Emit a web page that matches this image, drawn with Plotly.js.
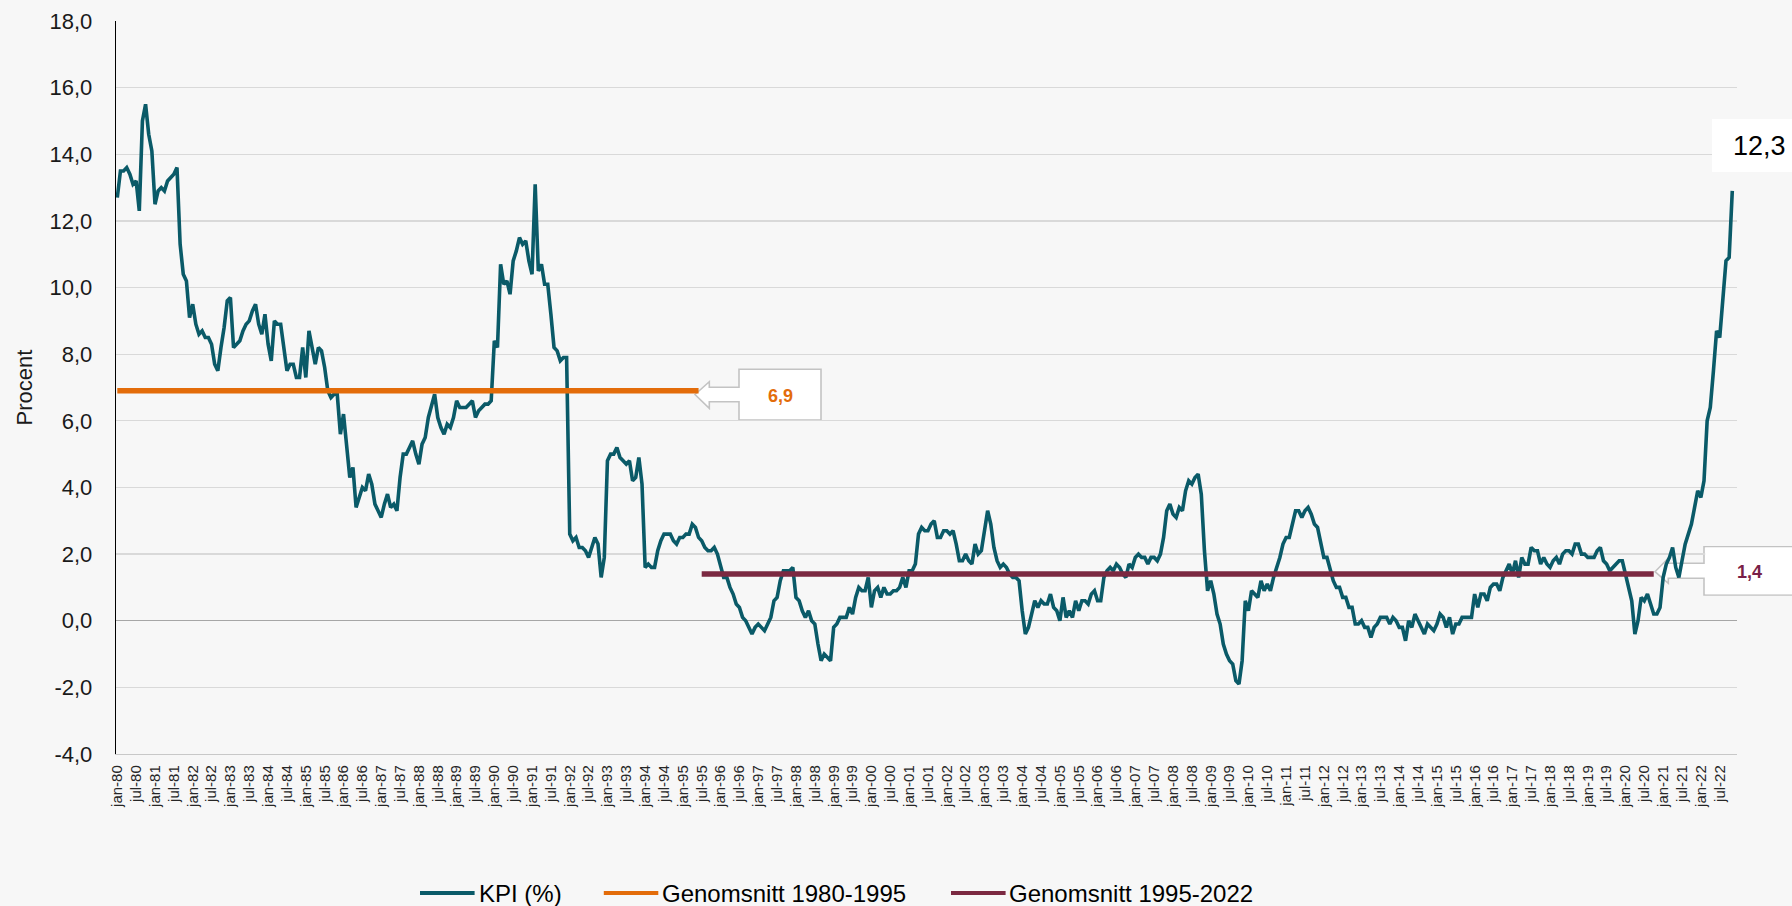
<!DOCTYPE html>
<html>
<head>
<meta charset="utf-8">
<script src="https://cdn.plot.ly/plotly-3.0.1.min.js"></script>
<style>
  html, body { margin: 0; padding: 0; background: #f7f7f7; }
  #chart { width: 1792px; height: 906px; }
</style>
</head>
<body>
<div id="chart"></div>
<script>
// ---------------- DATA ----------------
const monthNames = ['jan','feb','mar','apr','maj','jun','jul','aug','sep','okt','nov','dec'];
const firstYear = 1980;
const monthCount = 515;               // jan-80 .. nov-22
const categories = [];
for (let k = 0; k < monthCount; k++) {
  const yr = firstYear + Math.floor(k / 12);
  categories.push(monthNames[k % 12] + '-' + String(yr % 100).padStart(2, '0'));
}

// KPI, 12-month change (%)
const kpi = [
  12.7, 13.5, 13.5, 13.6, 13.4, 13.1, 13.2, 12.3, 15.0, 15.5, 14.6, 14.1, // 1980
  12.5, 12.9, 13.0, 12.9, 13.2, 13.3, 13.4, 13.6, 11.3, 10.4, 10.2, 9.1,  // 1981
  9.5, 8.9, 8.6, 8.7, 8.5, 8.5, 8.3, 7.7, 7.5, 8.2, 8.8, 9.6,             // 1982
  9.7, 8.2, 8.3, 8.4, 8.7, 8.9, 9.0, 9.3, 9.5, 8.9, 8.6, 9.2,             // 1983
  8.3, 7.8, 9.0, 8.9, 8.9, 8.2, 7.5, 7.7, 7.7, 7.3, 7.3, 8.2,             // 1984
  7.3, 8.7, 8.2, 7.7, 8.2, 8.1, 7.6, 6.9, 6.7, 6.8, 6.8, 5.6,             // 1985
  6.2, 5.3, 4.3, 4.6, 3.4, 3.7, 4.0, 3.9, 4.4, 4.1, 3.5, 3.3,             // 1986
  3.1, 3.5, 3.8, 3.4, 3.5, 3.3, 4.3, 5.0, 5.0, 5.2, 5.4, 5.0,             // 1987
  4.7, 5.3, 5.5, 6.1, 6.5, 6.8, 6.1, 5.8, 5.6, 5.9, 5.8, 6.1,             // 1988
  6.6, 6.4, 6.4, 6.4, 6.5, 6.6, 6.1, 6.3, 6.4, 6.5, 6.5, 6.6,             // 1989
  8.4, 8.2, 10.7, 10.1, 10.2, 9.8, 10.8, 11.1, 11.5, 11.3, 11.4, 10.8,    // 1990
  10.4, 13.1, 10.5, 10.7, 10.1, 10.1, 9.2, 8.2, 8.1, 7.8, 7.9, 7.9,       // 1991
  2.6, 2.4, 2.5, 2.2, 2.2, 2.1, 1.9, 2.2, 2.5, 2.3, 1.3, 1.9,             // 1992
  4.8, 5.0, 5.0, 5.2, 4.9, 4.8, 4.7, 4.8, 4.2, 4.3, 4.9, 4.1,             // 1993
  1.6, 1.7, 1.6, 1.6, 2.1, 2.4, 2.6, 2.6, 2.6, 2.4, 2.3, 2.5,             // 1994
  2.5, 2.6, 2.6, 2.9, 2.8, 2.5, 2.4, 2.2, 2.1, 2.1, 2.2, 2.0,             // 1995
  1.6, 1.3, 1.3, 1.0, 0.8, 0.5, 0.4, 0.1, 0.0, -0.2, -0.4, -0.2,          // 1996
  -0.1, -0.2, -0.3, -0.1, 0.1, 0.6, 0.7, 1.2, 1.5, 1.5, 1.5, 1.6,         // 1997
  0.7, 0.6, 0.3, 0.1, 0.3, 0.0, -0.1, -0.7, -1.2, -1.0, -1.1, -1.2,       // 1998
  -0.2, -0.1, 0.1, 0.1, 0.1, 0.4, 0.2, 0.7, 1.0, 0.9, 0.9, 1.3,           // 1999
  0.4, 0.9, 1.0, 0.7, 1.0, 0.8, 0.8, 0.9, 0.9, 1.0, 1.3, 1.0,             // 2000
  1.5, 1.5, 1.7, 2.6, 2.8, 2.7, 2.7, 2.9, 3.0, 2.5, 2.5, 2.7,             // 2001
  2.7, 2.6, 2.7, 2.3, 1.8, 1.8, 2.0, 1.8, 1.7, 2.3, 2.0, 2.1,             // 2002
  2.8, 3.3, 2.9, 2.2, 1.8, 1.6, 1.7, 1.6, 1.4, 1.3, 1.3, 1.2,             // 2003
  0.3, -0.4, -0.2, 0.2, 0.6, 0.4, 0.6, 0.5, 0.5, 0.8, 0.4, 0.3,           // 2004
  0.0, 0.7, 0.1, 0.3, 0.1, 0.6, 0.3, 0.6, 0.6, 0.5, 0.8, 0.9,             // 2005
  0.6, 0.6, 1.3, 1.5, 1.6, 1.5, 1.7, 1.6, 1.4, 1.3, 1.7, 1.6,             // 2006
  1.9, 2.0, 1.9, 1.9, 1.7, 1.9, 1.9, 1.8, 2.0, 2.5, 3.3, 3.5,             // 2007
  3.2, 3.1, 3.4, 3.3, 3.9, 4.2, 4.1, 4.3, 4.4, 3.8, 2.1, 0.9,             // 2008
  1.2, 0.8, 0.2, -0.1, -0.7, -1.0, -1.2, -1.3, -1.8, -1.9, -1.2, 0.6,     // 2009
  0.3, 0.9, 0.8, 0.7, 1.2, 0.9, 1.1, 0.9, 1.3, 1.6, 1.9, 2.3,             // 2010
  2.5, 2.5, 2.9, 3.3, 3.3, 3.1, 3.3, 3.4, 3.2, 2.9, 2.8, 2.4,             // 2011
  1.9, 1.9, 1.5, 1.2, 1.0, 1.0, 0.7, 0.7, 0.4, 0.4, -0.1, -0.1,           // 2012
  0.0, -0.2, -0.2, -0.5, -0.2, -0.1, 0.1, 0.1, 0.1, -0.1, 0.1, 0.0,       // 2013
  -0.2, -0.2, -0.6, 0.0, -0.2, 0.2, 0.0, -0.2, -0.4, -0.1, -0.2, -0.3,    // 2014
  -0.1, 0.2, 0.1, -0.2, 0.1, -0.4, -0.1, -0.1, 0.1, 0.1, 0.1, 0.1,        // 2015
  0.8, 0.4, 0.8, 0.8, 0.6, 1.0, 1.1, 1.1, 0.9, 1.3, 1.5, 1.7,             // 2016
  1.4, 1.8, 1.3, 1.9, 1.7, 1.7, 2.2, 2.1, 2.1, 1.7, 1.9, 1.7,             // 2017
  1.6, 1.8, 1.9, 1.7, 2.0, 2.1, 2.1, 2.0, 2.3, 2.3, 2.0, 2.0,             // 2018
  1.9, 1.9, 1.9, 2.1, 2.2, 1.8, 1.7, 1.5, 1.6, 1.7, 1.8, 1.8,             // 2019
  1.4, 1.0, 0.6, -0.4, 0.0, 0.7, 0.6, 0.8, 0.5, 0.2, 0.2, 0.4,            // 2020
  1.3, 1.7, 1.9, 2.2, 1.6, 1.3, 1.8, 2.3, 2.6, 2.9, 3.4, 3.9,             // 2021
  3.7, 4.2, 6.0, 6.4, 7.5, 8.7, 8.5, 9.8, 10.8, 10.9, 12.9                // 2022 (jan-nov)
];

// Period averages
const avg1Value = 6.9, avg1From = 'jan-80', avg1To = 'jun-95';
const avg2Value = 1.4, avg2From = 'jul-95', avg2To = 'okt-20';   // visible part, ends at the call-out arrow
const lastLabel = '12,3';

// Tick labels
const yTickVals = [-4, -2, 0, 2, 4, 6, 8, 10, 12, 14, 16, 18];
const yTickText = ['-4,0', '-2,0', '0,0', '2,0', '4,0', '6,0', '8,0', '10,0', '12,0', '14,0', '16,0', '18,0'];
const xTickLabels = categories.filter(c => c.startsWith('jan-') || c.startsWith('jul-'));

const seriesNames = ['KPI (%)', 'Genomsnitt 1980-1995', 'Genomsnitt 1995-2022'];
const colors = { kpi: '#0a5a68', avg1: '#e36c0a', avg2: '#7b2941', avg2Text: '#7a1f47' };

// ---------------- BUILD ----------------
const idx = c => categories.indexOf(c);
const xAll = categories.map((c, i) => i);
const xTickVals = xTickLabels.map(idx);

function rangeSeries(from, to, value) {
  const xs = [], ys = [];
  for (let i = idx(from); i <= idx(to); i++) { xs.push(i); ys.push(value); }
  return { xs, ys };
}
const a1 = rangeSeries(avg1From, avg1To, avg1Value);
const a2 = rangeSeries(avg2From, avg2To, avg2Value);

const FONT = 'Liberation Sans, Arial, Helvetica, sans-serif';

// plot area geometry (pixels)
const L = 116, R = 1737, T = 21, B = 754;
const W = R - L, H = B - T;
const px = p => (p - L) / W;          // pixel x -> paper
const py = p => (B - p) / H;          // pixel y -> paper
function pathPaper(pts, close) {
  return pts.map((p, i) => (i === 0 ? 'M' : 'L') + px(p[0]).toFixed(5) + ',' + py(p[1]).toFixed(5)).join(' ') + (close ? ' Z' : '');
}

const traces = [
  { x: xAll, y: kpi, type: 'scatter', mode: 'lines', name: seriesNames[0],
    line: { color: colors.kpi, width: 3.6 }, hoverinfo: 'skip', showlegend: false },
  { x: a1.xs, y: a1.ys, type: 'scatter', mode: 'lines', name: seriesNames[1],
    line: { color: colors.avg1, width: 5.5 }, hoverinfo: 'skip', showlegend: false },
  { x: a2.xs, y: a2.ys, type: 'scatter', mode: 'lines', name: seriesNames[2],
    line: { color: colors.avg2, width: 5.5 }, hoverinfo: 'skip', showlegend: false }
];

// call-out shapes
const c69 = [[695, 394.5], [709.3, 381.7], [709.3, 387.3], [739, 387.3], [739, 369.3], [821, 369.3],
             [821, 420], [739, 420], [739, 401.7], [709.3, 401.7], [709.3, 408.3]];
const c14 = [[1655, 571.7], [1668.3, 558.3], [1668.3, 563.3], [1704, 563.3], [1704, 546.7], [1800, 546.7],
             [1800, 595], [1704, 595], [1704, 578.3], [1668.3, 578.3], [1668.3, 583.3]];

const shapes = [
  { type: 'path', xref: 'paper', yref: 'paper', layer: 'below', path: pathPaper(c69, true),
    fillcolor: '#ffffff', line: { color: '#c3c3c3', width: 1.6 } },
  { type: 'path', xref: 'paper', yref: 'paper', layer: 'below', path: pathPaper(c14, true),
    fillcolor: '#ffffff', line: { color: '#c3c3c3', width: 1.6 } },
  // cover grid line inside the 1,4 box
  { type: 'rect', xref: 'paper', yref: 'paper', layer: 'above',
    x0: px(1705.2), x1: px(1800), y0: py(594.2), y1: py(547.6), fillcolor: '#ffffff', line: { width: 0 } },
  // 12,3 label box
  { type: 'rect', xref: 'paper', yref: 'paper', layer: 'above',
    x0: px(1712), x1: px(1800), y0: py(172), y1: py(119), fillcolor: '#ffffff', line: { width: 0 } },
  // legend samples
  { type: 'line', xref: 'paper', yref: 'paper', layer: 'above', x0: px(420), x1: px(474.6), y0: py(893), y1: py(893),
    line: { color: colors.kpi, width: 4 } },
  { type: 'line', xref: 'paper', yref: 'paper', layer: 'above', x0: px(603.8), x1: px(658.3), y0: py(893), y1: py(893),
    line: { color: colors.avg1, width: 4 } },
  { type: 'line', xref: 'paper', yref: 'paper', layer: 'above', x0: px(951), x1: px(1005.6), y0: py(893), y1: py(893),
    line: { color: colors.avg2, width: 4 } }
];

const fmt = v => v.toFixed(1).replace('.', ',');

const annotations = [
  { xref: 'paper', yref: 'paper', x: px(780), y: py(395.5), text: '<b>' + fmt(avg1Value) + '</b>', showarrow: false,
    font: { family: FONT, size: 18, color: colors.avg1 }, xanchor: 'center', yanchor: 'middle' },
  { xref: 'paper', yref: 'paper', x: px(1749), y: py(571.7), text: '<b>' + fmt(avg2Value) + '</b>', showarrow: false,
    font: { family: FONT, size: 18, color: colors.avg2Text }, xanchor: 'center', yanchor: 'middle' },
  { xref: 'paper', yref: 'paper', x: px(1760), y: py(146), text: lastLabel, showarrow: false,
    font: { family: FONT, size: 27, color: '#000000' }, xanchor: 'center', yanchor: 'middle' },
  { xref: 'paper', yref: 'paper', x: px(477), y: py(893), text: seriesNames[0], showarrow: false,
    font: { family: FONT, size: 24, color: '#000000' }, xanchor: 'left', yanchor: 'middle' },
  { xref: 'paper', yref: 'paper', x: px(659.5), y: py(893), text: seriesNames[1], showarrow: false,
    font: { family: FONT, size: 24, color: '#000000' }, xanchor: 'left', yanchor: 'middle' },
  { xref: 'paper', yref: 'paper', x: px(1007), y: py(893), text: seriesNames[2], showarrow: false,
    font: { family: FONT, size: 24, color: '#000000' }, xanchor: 'left', yanchor: 'middle' }
];

const layout = {
  width: 1792, height: 906,
  margin: { l: L, r: 1792 - R, t: T, b: 906 - B, pad: 0 },
  paper_bgcolor: '#f7f7f7', plot_bgcolor: '#f7f7f7',
  font: { family: FONT, color: '#1a1a1a' },
  showlegend: false,
  hovermode: false,
  xaxis: {
    type: 'linear', range: [-0.41, 515.5], fixedrange: true,
    tickmode: 'array', tickvals: xTickVals, ticktext: xTickLabels,
    tickangle: -90, tickfont: { family: FONT, size: 15, color: '#262626' },
    ticks: '', showgrid: false, zeroline: false,
    showline: true, linecolor: '#c8c8c8', linewidth: 1.2,
    ticklabelstandoff: 4
  },
  yaxis: {
    range: [-4, 18], fixedrange: true,
    tickmode: 'array', tickvals: yTickVals, ticktext: yTickText,
    tickfont: { family: FONT, size: 22, color: '#1a1a1a' },
    ticks: '', showgrid: true, gridcolor: '#d9d9d9', gridwidth: 1.2,
    zeroline: true, zerolinecolor: '#a6a6a6', zerolinewidth: 1.3,
    showline: true, linecolor: '#000000', linewidth: 1.3,
    ticklabelstandoff: 18,
    title: { text: 'Procent', font: { family: FONT, size: 22, color: '#1a1a1a' }, standoff: 10 }
  },
  shapes: shapes,
  annotations: annotations
};

Plotly.newPlot('chart', traces, layout, { displayModeBar: false, staticPlot: true });
</script>
</body>
</html>
